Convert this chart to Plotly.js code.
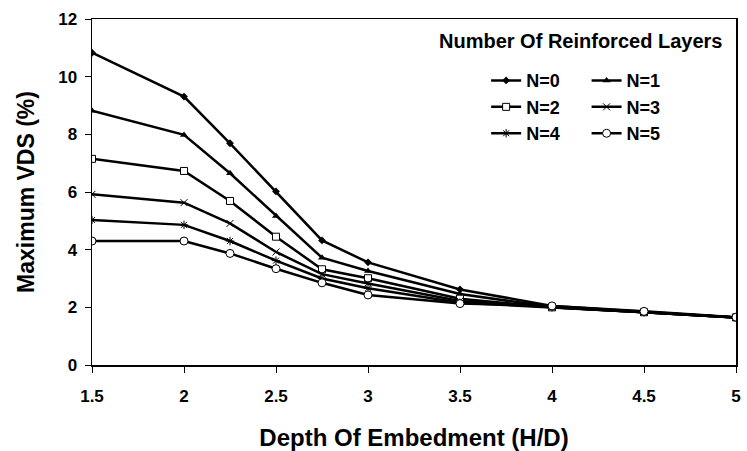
<!DOCTYPE html>
<html>
<head>
<meta charset="utf-8">
<script src="https://cdn.plot.ly/plotly-3.0.1.min.js"></script>
<style>html,body{margin:0;padding:0;background:#fff;}#chart{width:747px;height:451px;}</style>
</head>
<body>
<div id="chart"></div>
<script>
const depth = [1.5, 2, 2.25, 2.5, 2.75, 3, 3.5, 4, 4.5, 5];
const seriesNames = ["N=0", "N=1", "N=2", "N=3", "N=4", "N=5"];
const n0 = [10.83, 9.31, 7.69, 6.02, 4.32, 3.56, 2.62, 2.05, 1.85, 1.65];
const n1 = [8.82, 7.98, 6.65, 5.17, 3.72, 3.26, 2.46, 2.01, 1.83, 1.65];
const n2 = [7.15, 6.73, 5.69, 4.45, 3.32, 3.01, 2.30, 2.00, 1.83, 1.65];
const n3 = [5.92, 5.63, 4.91, 3.92, 3.15, 2.83, 2.22, 2.00, 1.83, 1.65];
const n4 = [5.03, 4.86, 4.30, 3.62, 3.00, 2.66, 2.16, 2.00, 1.83, 1.65];
const n5 = [4.30, 4.30, 3.87, 3.34, 2.85, 2.43, 2.13, 2.05, 1.86, 1.66];
const xTicks = [1.5, 2, 2.5, 3, 3.5, 4, 4.5, 5];
const yTicks = [0, 2, 4, 6, 8, 10, 12];

const values = [n0, n1, n2, n3, n4, n5];
const markers = [
  {symbol: "diamond", size: 6, color: "#000", line: {width: 0}},
  {symbol: "triangle-up", size: 7, color: "#000", line: {width: 0}},
  {symbol: "square", size: 7, color: "#fff", line: {width: 1, color: "#000"}},
  {symbol: "x-thin-open", size: 7, color: "#000", line: {width: 1, color: "#000"}},
  {symbol: "asterisk-open", size: 7, color: "#000", line: {width: 1, color: "#000"}},
  {symbol: "circle", size: 8, color: "#fff", line: {width: 1, color: "#000"}}
];
const legendFor = ["legend", "legend2", "legend", "legend2", "legend", "legend2"];

const traces = values.map((v, i) => ({
  x: depth, y: v, name: "<b>" + seriesNames[i] + "</b>", type: "scatter", mode: "lines+markers",
  line: {color: "#000", width: 2.5},
  marker: markers[i],
  legend: legendFor[i],
  legendgroup: "g" + i
}));

const fontFam = "Liberation Sans, Arial, sans-serif";
const legendCommon = {
  bgcolor: "rgba(0,0,0,0)", borderwidth: 0,
  font: {family: fontFam, size: 18, color: "#000"},
  tracegroupgap: 0, itemwidth: 30,
  xanchor: "left", yanchor: "top", y: 0.875
};

const layout = {
  width: 747, height: 451,
  margin: {l: 92, r: 11, t: 19, b: 86},
  paper_bgcolor: "#fff", plot_bgcolor: "#fff",
  font: {family: fontFam, color: "#000"},
  showlegend: true,
  xaxis: {
    range: [1.5, 5], tickvals: xTicks, ticktext: xTicks.map(v => "<b>" + v + "</b>"),
    showgrid: false, zeroline: false, showline: true, linecolor: "#000", linewidth: 1.5,
    mirror: true, ticks: "outside", ticklen: 6, tickcolor: "#000", tickwidth: 1,
    ticklabelstandoff: 9,
    tickfont: {family: fontFam, size: 17, color: "#000"},
    title: {text: "<b>Depth Of Embedment (H/D)</b>", font: {family: fontFam, size: 24, color: "#000"}, standoff: 29}
  },
  yaxis: {
    range: [0, 12], tickvals: yTicks, ticktext: yTicks.map(v => "<b>" + v + "</b>"),
    showgrid: false, zeroline: false, showline: true, linecolor: "#000", linewidth: 1.5,
    mirror: true, ticks: "outside", ticklen: 6, tickcolor: "#000", tickwidth: 1,
    ticklabelstandoff: 4,
    tickfont: {family: fontFam, size: 17, color: "#000"},
    title: {text: "<b>Maximum VDS (%)</b>", font: {family: fontFam, size: 23, color: "#000"}, standoff: 17}
  },
  legend: Object.assign({}, legendCommon, {x: 0.612}),
  legend2: Object.assign({}, legendCommon, {x: 0.768}),
  annotations: [{
    text: "<b>Number Of Reinforced Layers</b>", xref: "paper", yref: "paper",
    x: 0.759, y: 0.936, xanchor: "center", yanchor: "middle", showarrow: false,
    font: {family: fontFam, size: 20, color: "#000"}
  }]
};

Plotly.newPlot("chart", traces, layout, {staticPlot: true, displayModeBar: false});
</script>
</body>
</html>
